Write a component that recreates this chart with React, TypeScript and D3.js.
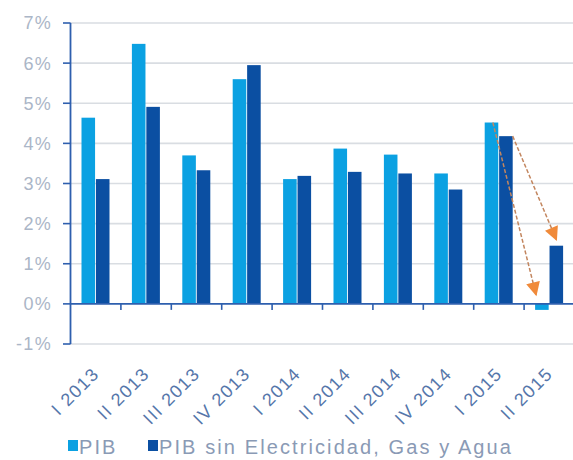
import React from 'react'
import * as d3 from 'd3'

const categories = ['I 2013', 'II 2013', 'III 2013', 'IV 2013', 'I 2014', 'II 2014', 'III 2014', 'IV 2014', 'I 2015', 'II 2015']
const pib = [4.64, 6.48, 3.7, 5.6, 3.11, 3.87, 3.72, 3.25, 4.52, -0.15]
const pibSinEGA = [3.11, 4.91, 3.33, 5.95, 3.19, 3.29, 3.25, 2.85, 4.18, 1.45]
const seriesNames = ['PIB', 'PIB sin Electricidad, Gas y Agua']
const yTicks = [-1, 0, 1, 2, 3, 4, 5, 6, 7]

const W = 573
const H = 460
const LIGHT = '#0ba1e2'
const DARK = '#0b4fa2'
const AXIS = '#2e5fae'
const FONT = '"Liberation Sans", Arial, sans-serif'

export default function App() {
  const x0 = d3.scaleBand<string>().domain(categories).range([70.5, 574.5])
  const x1 = d3.scaleBand<number>().domain([0, 1]).range([11, 39]).paddingInner(0.06)
  const y = d3.scaleLinear().domain([-1, 7]).range([344, 23])
  const series = [pib, pibSinEGA]
  const colors = [LIGHT, DARK]

  // flechas: de I 2015 a II 2015
  const arrows = [
    { x1: x0('I 2015')! + x1(0)! + x1.bandwidth() * 0.6, y1: y(pib[8]), x2: x0('II 2015')! + x1(0)! + 1, y2: y(0) - 9 },
    { x1: x0('I 2015')! + x1(1)! + x1.bandwidth(), y1: y(pibSinEGA[8]), x2: x0('II 2015')! + x1(1)! + x1.bandwidth() / 2, y2: y(pibSinEGA[9]) - 6 },
  ]

  return (
    <svg width={W} height={H} style={{ position: 'absolute', left: 0, top: 0, background: '#fff' }}>
      {/* grid */}
      {yTicks.filter(t => t !== 0).map(t => (
        <line key={t} x1={70} x2={W} y1={y(t)} y2={y(t)} stroke="#d9dde2" strokeWidth={1.6} />
      ))}
      {/* bars */}
      {categories.map((c, i) => (
        <g key={c} transform={`translate(${x0(c)},0)`}>
          {series.map((s, k) => (
            <rect key={k} x={x1(k)} width={x1.bandwidth()}
              y={Math.min(y(s[i]), y(0))} height={Math.abs(y(s[i]) - y(0))}
              fill={colors[k]} />
          ))}
        </g>
      ))}
      {/* zero axis */}
      <line x1={70} x2={W} y1={y(0)} y2={y(0)} stroke={AXIS} strokeWidth={1.6} />
      {categories.slice(1).map(c => (
        <line key={c} x1={x0(c)} x2={x0(c)} y1={y(0)} y2={y(0) + 6} stroke={AXIS} strokeWidth={1.6} />
      ))}
      {/* y axis */}
      <line x1={70.5} x2={70.5} y1={y(7)} y2={y(-1)} stroke={AXIS} strokeWidth={1.8} />
      {yTicks.map(t => (
        <g key={t}>
          <line x1={63} x2={70.5} y1={y(t)} y2={y(t)} stroke={AXIS} strokeWidth={1.6} />
          <text x={52} y={y(t)} dy="0.36em" textAnchor="end" fontFamily={FONT} fontSize={18}
            letterSpacing={1.3} fill="#abb6c7">{`${t}%`}</text>
        </g>
      ))}
      {/* x labels */}
      {categories.map(c => {
        const cx = x0(c)! + x0.bandwidth() / 2 + 4.5
        return (
          <text key={c} transform={`translate(${cx},${375}) rotate(-45)`} textAnchor="end"
            fontFamily={FONT} fontSize={18} letterSpacing={1.4} fill="#5576aa">{c}</text>
        )
      })}
      {/* arrows */}
      <defs>
        <marker id="ah" viewBox="0 0 10 10" refX={9} refY={5} markerWidth={15} markerHeight={14}
          markerUnits="userSpaceOnUse" orient="auto">
          <path d="M0,0L10,5L0,10Z" fill="#f08a3a" />
        </marker>
      </defs>
      {arrows.map((a, i) => (
        <line key={i} x1={a.x1} y1={a.y1} x2={a.x2} y2={a.y2} stroke="#c3865f" strokeWidth={1.5}
          strokeDasharray="4,2" markerEnd="url(#ah)" />
      ))}
      {/* legend */}
      {seriesNames.map((n, k) => {
        const lx = k === 0 ? 68 : 148
        return (
          <g key={n}>
            <rect x={lx} y={440} width={10} height={11} fill={colors[k]} />
            <text x={lx + 11} y={454} fontFamily={FONT} fontSize={20} letterSpacing={2.1}
              fill="#8a9ab5">{n}</text>
          </g>
        )
      })}
    </svg>
  )
}
